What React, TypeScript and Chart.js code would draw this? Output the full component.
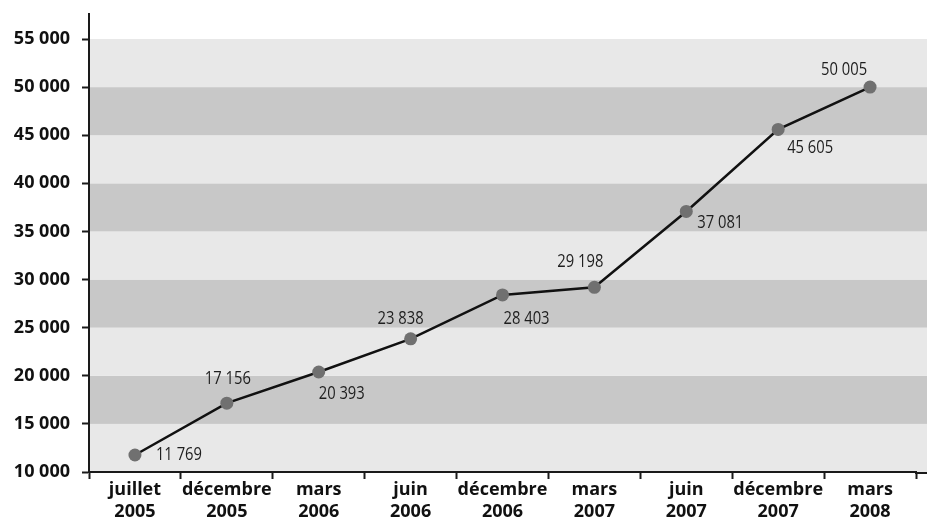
import React, { useEffect, useRef } from "react";
import { Chart, registerables } from "chart.js";

Chart.register(...registerables);

// Period labels (two lines each)
const periods: string[][] = [
  ["juillet", "2005"],
  ["décembre", "2005"],
  ["mars", "2006"],
  ["juin", "2006"],
  ["décembre", "2006"],
  ["mars", "2007"],
  ["juin", "2007"],
  ["décembre", "2007"],
  ["mars", "2008"],
];

// Totals per period
const totals: number[] = [11769, 17156, 20393, 23838, 28403, 29198, 37081, 45605, 50005];

// Y axis ticks
const yTicks: number[] = [10000, 15000, 20000, 25000, 30000, 35000, 40000, 45000, 50000, 55000];

// Where each value label sits relative to its point (dx, dy in px)
const labelOffsets: [number, number][] = [
  [44, 0],
  [1, -24],
  [23, 22],
  [-10, -20],
  [24, 24],
  [-14, -25],
  [34, 11],
  [32, 18],
  [-26, -17],
];

const fmt = (v: number) =>
  String(v).replace(/\B(?=(\d{3})+(?!\d))/g, " ");

const bandsPlugin = {
  id: "bands",
  beforeDraw(chart: any) {
    const { ctx, chartArea, scales } = chart;
    const y = scales.y;
    const right = chart.width;
    ctx.save();
    for (let i = 0; i < yTicks.length - 1; i++) {
      const top = y.getPixelForValue(yTicks[i + 1]);
      const bottom = y.getPixelForValue(yTicks[i]);
      ctx.fillStyle = i % 2 === 0 ? "#e8e8e8" : "#c8c8c8";
      ctx.fillRect(chartArea.left, top, right - chartArea.left, bottom - top);
    }
    ctx.restore();
  },
  afterDraw(chart: any) {
    const { ctx, chartArea } = chart;
    ctx.save();
    ctx.strokeStyle = "#1a1a1a";
    ctx.lineWidth = 2;
    ctx.beginPath();
    ctx.moveTo(chartArea.right - 1, chartArea.bottom + 1);
    ctx.lineTo(chart.width, chartArea.bottom + 1);
    ctx.stroke();
    ctx.restore();
  },
};

const valueLabelsPlugin = {
  id: "valueLabels",
  afterDatasetsDraw(chart: any) {
    const { ctx } = chart;
    const meta = chart.getDatasetMeta(0);
    ctx.save();
    ctx.fillStyle = "#1e1e1e";
    ctx.font = '18px "Open Sans"';
    ctx.textAlign = "center";
    ctx.textBaseline = "middle";
    meta.data.forEach((pt: any, i: number) => {
      const [dx, dy] = labelOffsets[i];
      ctx.save();
      ctx.translate(pt.x + dx, pt.y + dy);
      ctx.scale(0.82, 1);
      ctx.fillText(fmt(totals[i]), 0, 0);
      ctx.restore();
    });
    ctx.restore();
  },
};

export default function App() {
  const ref = useRef<HTMLCanvasElement | null>(null);

  useEffect(() => {
    if (!ref.current) return;
    const chart = new Chart(ref.current, {
      type: "line",
      data: {
        labels: periods,
        datasets: [
          {
            data: totals,
            borderColor: "#111111",
            borderWidth: 2.5,
            pointRadius: 6.5,
            pointHoverRadius: 6.5,
            pointBackgroundColor: "#707070",
            pointBorderColor: "#707070",
            pointBorderWidth: 0,
            tension: 0,
          },
        ],
      },
      options: {
        responsive: false,
        animation: false,
        layout: { padding: { top: 14, right: 11, left: 0, bottom: 0 } },
        plugins: {
          legend: { display: false },
          tooltip: { enabled: false },
        },
        scales: {
          x: {
            offset: true,
            grid: {
              offset: true,
              drawOnChartArea: false,
              drawTicks: true,
              tickLength: 7,
              tickWidth: 2,
              color: "#1a1a1a",
            },
            border: { display: true, color: "#1a1a1a", width: 2 },
            ticks: {
              color: "#111111",
              font: { family: "Open Sans", size: 18, weight: "bold", lineHeight: 1.2 },
              padding: 0,
              maxRotation: 0,
              autoSkip: false,
            },
            afterFit(scale: any) {
              scale.height = 47;
              scale.paddingLeft = 0;
              scale.paddingRight = 0;
            },
          },
          y: {
            min: 10000,
            max: 57600,
            afterBuildTicks(scale: any) {
              scale.ticks = yTicks.map((v) => ({ value: v }));
            },
            grid: {
              drawOnChartArea: false,
              drawTicks: true,
              tickLength: 7,
              tickWidth: 2,
              color: "#1a1a1a",
            },
            border: { display: true, color: "#1a1a1a", width: 2 },
            ticks: {
              color: "#111111",
              font: { family: "Open Sans", size: 18, weight: "bold" },
              padding: 12,
              callback: (v: any) => fmt(Number(v)),
            },
            afterFit(scale: any) {
              scale.width = 89;
              scale.paddingTop = 0;
              scale.paddingBottom = 0;
            },
          },
        },
      },
      plugins: [bandsPlugin, valueLabelsPlugin],
    });
    return () => chart.destroy();
  }, []);

  return (
    <div style={{ position: "fixed", left: 0, top: 0, width: 927, height: 519, background: "#ffffff" }}>
      <canvas ref={ref} width={927} height={519} style={{ display: "block" }} />
    </div>
  );
}
